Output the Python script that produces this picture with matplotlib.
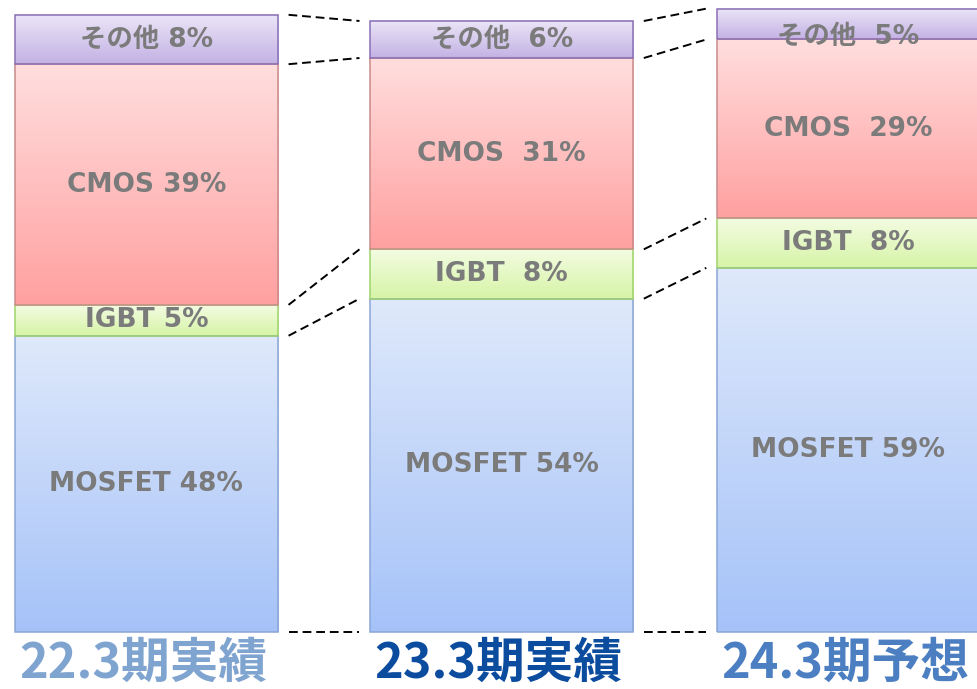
import numpy as np
import matplotlib
matplotlib.use("Agg")
import matplotlib.pyplot as plt
from matplotlib.patches import Rectangle
from matplotlib.colors import to_rgb

# ---- data -------------------------------------------------------------
periods = ["22.3期実績", "23.3期実績", "24.3期予想"]
segment_names = ["MOSFET", "IGBT", "CMOS", "その他"]
mosfet = [48, 54, 59]
igbt = [5, 8, 8]
cmos = [39, 31, 29]
other = [8, 6, 5]

# ---- styles -----------------------------------------------------------
seg_values = [mosfet, igbt, cmos, other]
grad_top = ["#dfe9fb", "#f3fce2", "#ffdede", "#ece5f7"]
grad_bot = ["#a5c2f8", "#d6f4a6", "#ffa0a0", "#c2b2e4"]
edge_cols = ["#8aa6d4", "#9fd36c", "#c98a8a", "#8a70b6"]
period_cols = ["#80a4d0", "#0b4c9f", "#4b7fc2"]
label_sep = [" ", "  ", "  "]
text_col = "#7b7b7b"

xpos = [0.0, 1.012, 2.0]
bar_w = 0.75
gap = 0.03

fig = plt.figure(figsize=(9.78, 6.89), dpi=100)
ax = fig.add_axes([0, 0, 1, 1])
ax.axis("off")

grad = np.linspace(0, 1, 256).reshape(-1, 1, 1)

bounds = []  # cumulative boundaries per bar
for i in range(len(periods)):
    xc = xpos[i]
    base = 0.0
    b = [0.0]
    for k, vals in enumerate(seg_values):
        v = vals[i]
        x0, x1 = xc - bar_w / 2, xc + bar_w / 2
        y0, y1 = base, base + v
        c0 = np.array(to_rgb(grad_top[k]))
        c1 = np.array(to_rgb(grad_bot[k]))
        img = c0 * (1 - grad) + c1 * grad
        ax.imshow(img, extent=[x0, x1, y0, y1], origin="upper",
                  aspect="auto", interpolation="bilinear", zorder=1)
        ax.add_patch(Rectangle((x0, y0), bar_w, v, fill=False,
                               edgecolor=edge_cols[k], lw=1.1, zorder=2))
        name = segment_names[k]
        sep = " " if name == "MOSFET" else label_sep[i]
        dy = -9 if (name == "その他" and i == 2) else 0
        ax.annotate(f"{name}{sep}{v}%", xy=(xc, (y0 + y1) / 2),
                    xytext=(0, dy), textcoords="offset points",
                    ha="center", va="center", fontsize=19,
                    fontweight="bold", color=text_col,
                    family=["DejaVu Sans", "Noto Sans CJK JP"], zorder=3)
        base = y1
        b.append(base)
    bounds.append(b)

# dashed connectors between neighbouring bars
for i in range(len(periods) - 1):
    xa = xpos[i] + bar_w / 2 + gap
    xb = xpos[i + 1] - bar_w / 2 - gap
    for ya, yb in zip(bounds[i], bounds[i + 1]):
        ax.plot([xa, xb], [ya, yb], color="black", lw=1.4,
                dashes=(4.5, 2.5), zorder=2)

# period labels under the bars
for i, p in enumerate(periods):
    ax.text(xpos[i] - 0.01, -5.0, p, ha="center", va="center", fontsize=35,
            fontweight="bold", color=period_cols[i],
            family=["Noto Sans CJK JP", "DejaVu Sans"])

ax.set_xlim(-0.417, 2.369)
ax.set_ylim(-9.24, 102.4)

fig.savefig("out.png", dpi=100, facecolor="white")
